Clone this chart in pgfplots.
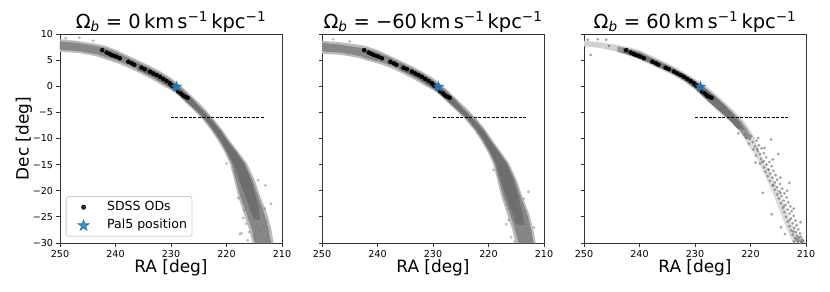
\documentclass[border=0pt]{standalone}
\usepackage{fontspec}
\setmainfont{DejaVu Sans}
\usepackage{pgfplots}
\pgfplotsset{compat=1.18}
\definecolor{tabblue}{HTML}{1F77B4}
\pgfdeclareplotmark{fstar}{%
  \pgfpathmoveto{\pgfpointpolar{90}{\pgfplotmarksize}}%
  \pgfpathlineto{\pgfpointpolar{126}{0.382\pgfplotmarksize}}%
  \pgfpathlineto{\pgfpointpolar{162}{\pgfplotmarksize}}%
  \pgfpathlineto{\pgfpointpolar{198}{0.382\pgfplotmarksize}}%
  \pgfpathlineto{\pgfpointpolar{234}{\pgfplotmarksize}}%
  \pgfpathlineto{\pgfpointpolar{270}{0.382\pgfplotmarksize}}%
  \pgfpathlineto{\pgfpointpolar{306}{\pgfplotmarksize}}%
  \pgfpathlineto{\pgfpointpolar{342}{0.382\pgfplotmarksize}}%
  \pgfpathlineto{\pgfpointpolar{18}{\pgfplotmarksize}}%
  \pgfpathlineto{\pgfpointpolar{54}{0.382\pgfplotmarksize}}%
  \pgfpathclose
  \pgfusepathqfillstroke}
\pgfplotsset{
  panel/.style={
    width=222bp, height=209bp, scale only axis,
    x dir=reverse, xmin=210, xmax=250, ymin=-30, ymax=10,
    xtick={210,220,230,240,250}, xticklabels={210,220,230,240,250},
    ytick={-30,-25,...,10},
    xtick pos=bottom, ytick pos=left, tick align=outside,
    major tick length=3.5bp,
    axis line style={black!80, line width=0.8bp},
    tick style={black!80, line width=0.8bp},
    tick label style={font=\fontsize{9.6}{11}\selectfont},
    xlabel={RA [deg]},
    xlabel style={font=\fontsize{17}{20}\selectfont, at={(axis description cs:0.5,-0.079)}, anchor=north, inner sep=0pt},
    title style={font=\fontsize{19.5}{22}\selectfont, at={(axis description cs:0.5,1)}, anchor=south, yshift=-5bp, inner sep=0pt},
  },
  halo/.style={draw=none, fill=black!27, forget plot},
  mid/.style={draw=none, fill=black!47, forget plot},
  core/.style={draw=none, fill=black!57, forget plot},
  pts/.style={only marks, mark=*, mark size=1.3bp, mark options={draw=black!52, fill=black!52, opacity=0.45, line width=0.2bp}, forget plot},
  ods/.style={only marks, mark=*, mark size=2bp, mark options={draw=black, fill=black}, black},
  pal/.style={only marks, mark=fstar, mark size=5.5bp, mark options={draw=tabblue, fill=tabblue}, tabblue},
  cut/.style={black, line width=0.8bp, dash pattern=on 3bp off 1.5bp, forget plot},
}
\begin{document}
\begin{tikzpicture}[x=1bp,y=1bp]
\path[use as bounding box] (0,0) rectangle (830,291);
% ---------------- panel 1 ----------------
\begin{axis}[panel, at={(60bp,48bp)}, anchor=south west,
  yticklabels={−30,−25,−20,−15,−10,−5,0,5,10},
  ylabel={Dec [deg]},
  ylabel style={font=\fontsize{17}{20}\selectfont, at={(axis description cs:-0.124,0.5)}, anchor=south, inner sep=0pt},
  title={Ω\textsubscript{\textit{b}} = 0\,km\,s\textsuperscript{−1}\,kpc\textsuperscript{−1}},
  legend cell align=left,
  legend style={at={(axis description cs:0.0257,0.030)}, anchor=south west, draw=black!20, line width=0.8bp,
    rounded corners=2.5bp, fill=white, fill opacity=0.8, text opacity=1,
    font=\fontsize{12.6}{15}\selectfont, inner xsep=3bp, inner ysep=2.5bp, row sep=1.8bp,
    nodes={inner sep=2bp, text height=9.5bp, text depth=3bp}},
  legend image code/.code={\path[draw=none,fill=none] (0bp,-1bp) rectangle (36bp,1bp); \draw[#1] plot coordinates {(14.5bp,0bp)};},
]
\addplot[halo] coordinates {(250,9.0) (247,8.7) (244,8.2) (242,7.8) (240,7.0) (238,6.0) (236,5.0) (234,4.0) (232,2.9) (230,1.6) (228,-0.1) (226,-2.1) (224,-4.2) (222.3,-6.3) (220.7,-8.4) (219.5,-10.3) (217.9,-12.5) (216.3,-14.75) (214.9,-18) (213.9,-21.1) (212.7,-24.3) (211.9,-27.5) (211.5,-30)
 (215.3,-30) (215.9,-27.5) (216.9,-24.3) (217.9,-21.1) (218.6,-18) (219.4,-14.75) (220.4,-12.5) (221.6,-10.3) (222.8,-8.4) (224.4,-6.2) (225.8,-4.7) (227.5,-3.0) (229.5,-1.0) (231.5,0.1) (233.5,1.35) (235.5,2.45) (237.5,3.45) (239.5,4.35) (241.5,5.05) (243.5,5.75) (246.5,6.35) (250,6.6)} --cycle;
\addplot[mid] coordinates {(250,8.6) (247,8.3) (244,7.8) (242,7.4) (240,6.6) (238,5.6) (236,4.6) (234,3.6) (232,2.5) (230,1.2) (228,-0.5) (226,-2.5) (224.2,-4.5) (222.6,-6.3) (221.0,-8.4) (219.8,-10.3) (218.2,-12.5) (216.7,-14.75) (215.3,-18) (214.3,-21.1) (213.2,-24.3) (212.4,-27.5) (212.0,-30)
 (214.8,-30) (215.4,-27.5) (216.4,-24.3) (217.5,-21.1) (218.3,-18) (219.1,-14.75) (220.1,-12.5) (221.3,-10.3) (222.5,-8.4) (224.1,-6.2) (225.5,-4.7) (227.2,-3.0) (229.2,-1.0) (231.2,0.4) (233.2,1.7) (235.2,2.8) (237.2,3.8) (239.2,4.7) (241.2,5.4) (243.2,6.1) (246.3,6.7) (250,7.0)} --cycle;
\addplot[core] coordinates {(236,4.3) (234,3.3) (232,2.2) (230,0.9) (228,-0.8) (226,-2.8) (224.3,-4.7) (222.8,-6.5) (221.2,-8.4) (220.0,-10.3) (218.4,-12.5) (216.9,-14.75) (215.6,-18) (214.7,-21.1) (214.1,-24) (213.9,-25.5)
 (215.0,-25.5) (215.6,-24) (216.6,-21.1) (217.7,-18) (218.8,-14.75) (219.9,-12.5) (221.1,-10.3) (222.3,-8.4) (223.8,-6.3) (225.2,-4.8) (226.9,-3.2) (228.9,-1.2) (230.9,0.2) (232.9,1.5) (234.9,2.6) (236,3.1)} --cycle;
\addplot[pts] coordinates {(220.0,-14.75) (214.3,-18.0) (217.9,-21.4) (217.3,-28.1) (217.6,-28.3) (215.2,-25.5) (212.0,-22.5) (213.0,-19.0) (214.8,-27.0) (213.6,-29.0) (212.6,-28.7) (216.5,-26.3) (214.0,-23.0) (215.5,-22.8) (216.8,-23.7) (212.8,-25.9) (216.0,-20.0) (213.4,-26.8) (246.5,9.3) (249,9.2) (244,8.7) (214.9,-29.3) (216.2,-29.5) (212.2,-29.6) (213.1,-23.4) (215.9,-27.9) (214.4,-25.0) (212.7,-27.0) (217.0,-25.2) (213.9,-27.6) (215.1,-28.6)};
\addplot[ods] coordinates {(242.4,6.9) (241.6,6.45) (241.1,6.2) (240.7,6.0) (240.2,5.8) (239.8,5.65) (239.2,5.35) (237.7,4.7) (237.1,4.4) (236.6,4.1) (235.3,3.55) (234.7,3.25) (233.8,2.8) (233.2,2.45) (232.6,2.15) (232.0,1.8) (231.4,1.4) (230.8,1.0) (230.2,0.55) (229.8,0.15) (228.7,-1.0) (228.2,-1.4) (227.8,-1.8) (227.4,-2.0) (227.0,-2.2)};
\addlegendentry{SDSS ODs}
\addplot[pal] coordinates {(229.02,-0.11)};
\addlegendentry{Pal5 position}
\addplot[cut] coordinates {(230,-6) (213,-6)};
\end{axis}
% ---------------- panel 2 ----------------
\begin{axis}[panel, at={(322bp,48bp)}, anchor=south west, yticklabels={},
  title={Ω\textsubscript{\textit{b}} = −60\,km\,s\textsuperscript{−1}\,kpc\textsuperscript{−1}}]
\addplot[halo] coordinates {(250,8.7) (247,8.45) (244,8.05) (242,7.65) (240,6.95) (238,5.95) (236,4.95) (234,3.95) (232,2.85) (230,1.55) (228,-0.15) (226,-2.15) (224,-4.2) (222.1,-6.3) (220.5,-8.4) (219.3,-10.3) (217.8,-12.5) (216.3,-14.75) (214.9,-18) (213.9,-21.1) (212.7,-24.3) (211.9,-27.5) (211.5,-30)
 (215.1,-30) (215.7,-27.5) (216.7,-24.3) (217.7,-21.1) (218.4,-18) (219.2,-14.75) (220.2,-12.5) (221.4,-10.3) (222.6,-8.4) (224.3,-6.2) (225.8,-4.7) (227.5,-3.0) (229.5,-1.0) (231.5,0.1) (233.5,1.35) (235.5,2.45) (237.5,3.45) (239.5,4.25) (241.5,4.8) (243.5,5.45) (246.5,6.0) (250,6.25)} --cycle;
\addplot[mid] coordinates {(250,8.3) (247,8.0) (244,7.5) (242,7.2) (240,6.5) (238,5.6) (236,4.6) (234,3.6) (232,2.5) (230,1.2) (228,-0.5) (226,-2.5) (224.2,-4.5) (222.4,-6.3) (220.8,-8.4) (219.6,-10.3) (218.1,-12.5) (216.6,-14.75) (215.2,-18) (214.2,-21.1) (213.1,-24.3) (212.3,-27.5) (211.9,-30)
 (214.6,-30) (215.2,-27.5) (216.2,-24.3) (217.3,-21.1) (218.1,-18) (218.9,-14.75) (219.9,-12.5) (221.1,-10.3) (222.3,-8.4) (224.0,-6.2) (225.5,-4.7) (227.2,-3.0) (229.2,-1.0) (231.2,0.4) (233.2,1.7) (235.2,2.8) (237.2,3.8) (239.2,4.6) (241.2,5.1) (243.2,5.8) (246.3,6.4) (250,6.7)} --cycle;
\addplot[core] coordinates {(236,4.3) (234,3.3) (232,2.2) (230,0.9) (228,-0.8) (226,-2.8) (224.3,-4.8) (222.6,-6.6) (221.0,-8.4) (219.8,-10.3) (218.3,-12.5) (216.8,-14.75) (215.5,-18) (214.6,-21.1) (213.9,-24.3) (213.5,-26.5)
 (215.0,-26.5) (215.7,-24.3) (216.8,-21.1) (217.8,-18) (218.7,-14.75) (219.7,-12.5) (220.9,-10.3) (222.1,-8.4) (223.6,-6.4) (225.1,-4.9) (226.9,-3.2) (228.9,-1.2) (230.9,0.2) (232.9,1.5) (234.9,2.6) (236,3.1)} --cycle;
\addplot[pts] coordinates {(219.1,-16.0) (212.8,-20.2) (216.4,-25.6) (214.8,-27.8) (213.2,-28.8) (212.4,-29.3) (215.9,-28.9) (216.2,-23.5) (213.0,-25.2) (211.8,-27.0) (214.6,-22.4) (217.5,-19.6) (213.6,-21.5) (248,9.0) (245,8.6) (214.0,-29.6) (215.3,-29.7) (212.9,-27.2) (216.8,-26.4) (214.2,-26.0) (213.5,-27.9) (215.0,-24.8) (214.4,-28.9) (212.7,-28.2)};
\addplot[ods, forget plot] coordinates {(242.4,6.9) (241.6,6.45) (241.1,6.2) (240.7,6.0) (240.2,5.8) (239.8,5.65) (239.2,5.35) (237.7,4.7) (237.1,4.4) (236.6,4.1) (235.3,3.55) (234.7,3.25) (233.8,2.8) (233.2,2.45) (232.6,2.15) (232.0,1.8) (231.4,1.4) (230.8,1.0) (230.2,0.55) (229.8,0.15) (228.7,-1.0) (228.2,-1.4) (227.8,-1.8) (227.4,-2.0) (227.0,-2.2)};
\addplot[pal, forget plot] coordinates {(229.02,-0.11)};
\addplot[cut] coordinates {(230,-6) (213,-6)};
\end{axis}
% ---------------- panel 3 ----------------
\begin{axis}[panel, at={(584bp,48bp)}, anchor=south west, yticklabels={},
  title={Ω\textsubscript{\textit{b}} = 60\,km\,s\textsuperscript{−1}\,kpc\textsuperscript{−1}}]
\addplot[halo, fill=black!18] coordinates {(250,8.7) (247,8.4) (244,7.9) (242,7.5) (240,6.9) (238,5.9) (236,4.9) (234,3.9) (232,2.7) (230,1.4) (228.5,0.4) (226.8,-1.0) (225,-2.7) (223,-4.7) (221.3,-6.6) (220.2,-8.2) (219.2,-10)
 (220.6,-10.6) (221.8,-8.9) (223.2,-7.2) (225.0,-5.6) (226.3,-4.4) (227.9,-2.7) (230,-0.6) (232,0.9) (234,2.1) (236,3.1) (238,4.1) (240,5.1) (242,5.9) (244,6.6) (247,7.3) (250,7.7)} --cycle;
\addplot[halo, fill=black!14] coordinates {(219.4,-10) (217.8,-14) (215.8,-18) (214.2,-22) (212.8,-26) (211.5,-28.5) (210.3,-30)
 (212.3,-30) (213.2,-28) (214.3,-25) (215.6,-21.5) (217.2,-17.5) (219.0,-13.5) (220.9,-10.5)} --cycle;
\addplot[mid, fill=black!42] coordinates {(244,7.6) (242,7.2) (240,6.6) (238,5.6) (236,4.6) (234,3.6) (232,2.4) (230,1.1) (228.5,0.0) (226.7,-1.6) (224.8,-3.4) (223,-5.2) (221.6,-6.8) (220.6,-8.3) (219.8,-9.8)
 (220.8,-10.2) (221.8,-8.7) (223.0,-7.1) (224.7,-5.6) (226.1,-4.3) (227.7,-2.8) (229.7,-0.7) (231.7,0.9) (233.7,2.2) (235.7,3.2) (237.7,4.2) (239.7,5.1) (241.7,5.9) (244,6.6)} --cycle;
\addplot[core, fill=black!55] coordinates {(243,7.3) (240,6.4) (238,5.4) (236,4.4) (234,3.4) (232,2.3) (230,1.0) (228.5,-0.1) (226.5,-1.8) (224.6,-3.7) (223.0,-5.5) (221.9,-7.0) (221.1,-8.3)
 (222.4,-8.1) (223.7,-6.5) (225.2,-5.0) (226.8,-3.6) (228.3,-2.2) (230,-0.4) (232,1.2) (234,2.5) (236,3.5) (238,4.5) (240,5.4) (243,6.5)} --cycle;
\addplot[pts, mark options={draw=black!55, fill=black!55, opacity=0.6, line width=0.2bp}] coordinates {(220.1,-10.1) (218.9,-10.4) (219.6,-10.7) (220.3,-11.0) (218.5,-11.3) (219.2,-11.5) (218.0,-11.9) (219.5,-12.1) (218.7,-12.4) (217.6,-12.8) (218.3,-13.0) (219.0,-13.3) (217.2,-13.6) (218.1,-13.9) (217.6,-14.3) (216.6,-14.5) (218.3,-14.8) (217.1,-15.0) (216.2,-15.3) (217.6,-15.5) (216.8,-15.9) (215.9,-16.2) (217.3,-16.4) (216.4,-16.7) (215.5,-17.0) (216.9,-17.2) (216.0,-17.5) (215.2,-17.9) (216.5,-18.1) (215.6,-18.4) (214.7,-18.7) (216.0,-19.0) (215.2,-19.3) (214.3,-19.6) (215.6,-19.8) (214.8,-20.1) (213.9,-20.5) (215.2,-20.7) (214.4,-21.0) (213.5,-21.3) (214.9,-21.5) (214.0,-21.9) (213.2,-22.2) (214.5,-22.4) (213.7,-22.7) (212.8,-23.0) (214.2,-23.3) (213.3,-23.6) (212.6,-23.9) (213.9,-24.1) (213.0,-24.4) (212.2,-24.8) (213.6,-25.0) (212.7,-25.3) (211.9,-25.7) (213.3,-25.9) (212.4,-26.2) (211.7,-26.6) (213.0,-26.8) (212.1,-27.1) (211.4,-27.4) (212.7,-27.6) (211.8,-27.9) (211.1,-28.2) (212.4,-28.4) (211.6,-28.6) (210.9,-28.8) (212.0,-29.0) (211.3,-29.1) (210.7,-29.3) (211.8,-29.4) (211.0,-29.6) (210.5,-29.7) (211.5,-29.8) (210.8,-29.9) (212.2,-29.7) (211.2,-28.9) (210.6,-29.5) (211.4,-29.5) (210.9,-30.0)
 (216.3,-10.2) (219.1,-14.6) (215.0,-13.0) (213.0,-18.5) (217.8,-20.4) (216.2,-24.5) (213.8,-28.3) (214.5,-27.0)
 (248.8,6.0) (245.5,7.7) (249.3,8.9) (247.5,9.0) (246,8.9) (221.0,-9.2) (219.9,-9.5) (220.7,-9.8) (222.2,-9.0) (218.6,-9.9)
 (218.8,-12.0) (217.9,-14.5) (216.7,-16.0) (215.9,-18.9) (214.6,-20.4) (214.0,-23.0) (212.9,-25.6) (212.3,-27.8) (211.7,-29.2) (217.5,-11.8) (216.0,-14.0) (214.6,-17.5) (213.4,-20.0) (212.2,-23.4) (211.0,-26.0)};
\addplot[ods, forget plot] coordinates {(242.4,6.9) (241.6,6.45) (241.1,6.2) (240.7,6.0) (240.2,5.8) (239.8,5.65) (239.2,5.35) (237.7,4.7) (237.1,4.4) (236.6,4.1) (235.3,3.55) (234.7,3.25) (233.8,2.8) (233.2,2.45) (232.6,2.15) (232.0,1.8) (231.4,1.4) (230.8,1.0) (230.2,0.55) (229.8,0.15) (228.7,-1.0) (228.2,-1.4) (227.8,-1.8) (227.4,-2.0) (227.0,-2.2)};
\addplot[pal, forget plot] coordinates {(229.02,-0.11)};
\addplot[cut] coordinates {(230,-6) (213,-6)};
\end{axis}
\end{tikzpicture}
\end{document}
